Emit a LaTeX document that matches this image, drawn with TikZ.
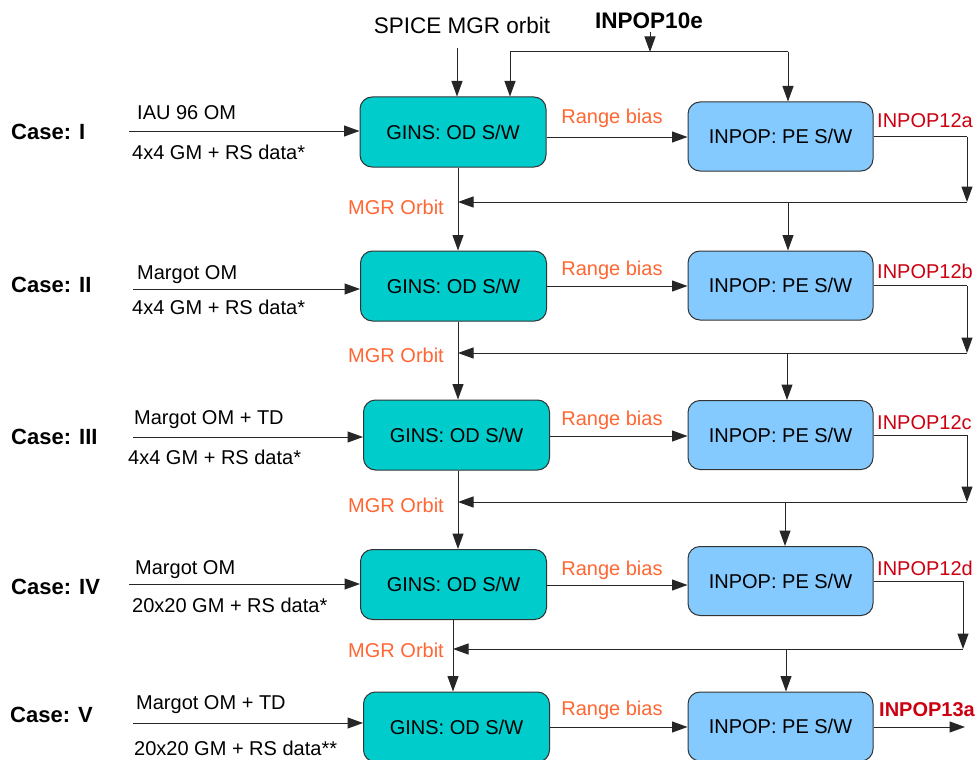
\documentclass[tikz,border=0pt]{standalone}
\usepackage{fontspec}
\setmainfont{Liberation Sans}
\usetikzlibrary{arrows.meta}
\definecolor{ginsfill}{RGB}{0,204,204}
\definecolor{inpopfill}{RGB}{132,202,255}
\definecolor{orng}{RGB}{255,102,51}
\definecolor{redlbl}{RGB}{204,0,17}
\begin{document}
\begin{tikzpicture}[x=1bp,y=-1bp,
  box/.style={draw=black!80, line width=1bp, rounded corners=12bp, minimum width=186bp, minimum height=70bp, inner sep=0pt, text height=14.3bp, text depth=0bp, font=\fontsize{20bp}{24bp}\selectfont},
  ginsbox/.style={box, fill=ginsfill},
  inpopbox/.style={box, fill=inpopfill, minimum width=185bp, minimum height=69bp},
  txt/.style={inner sep=0pt, text height=14.3bp, text depth=0bp, font=\fontsize{20bp}{24bp}\selectfont},
  lefttxt/.style={txt, anchor=west},
  casetxt/.style={inner sep=0pt, anchor=west, text height=15.8bp, text depth=0bp, font=\bfseries\fontsize{22bp}{26bp}\selectfont},
  orangetxt/.style={txt, text=orng},
  redtxt/.style={txt, text=redlbl, anchor=west},
  conn/.style={line width=1bp, draw=black!85},
  arr/.style={conn, -{Triangle[length=15.5bp,width=11bp]}},
]
\useasboundingbox (0,0) rectangle (979,760);

% top inputs
\node[txt, text height=16.1bp, font=\fontsize{22.5bp}{26bp}\selectfont] (spice) at (462,25) {SPICE MGR orbit};
\node[txt, text height=16.1bp, font=\bfseries\fontsize{22.5bp}{26bp}\selectfont] (ie) at (649,20) {INPOP10e};

% case labels
\node[casetxt] (c1) at (11,132) {Case: I};
\node[casetxt] (c2) at (11,285) {Case: II};
\node[casetxt] (c3) at (11,437) {Case: III};
\node[casetxt] (c4) at (11,587) {Case: IV};
\node[casetxt] (c5) at (10,715) {Case: V};

% GINS boxes
\node[ginsbox] (g1) at (453,132) {GINS: OD S/W};
\node[ginsbox] (g2) at (453.5,286) {GINS: OD S/W};
\node[ginsbox] (g3) at (456.5,435) {GINS: OD S/W};
\node[ginsbox] (g4) at (453.5,584.5) {GINS: OD S/W};
\node[ginsbox] (g5) at (456.5,727) {GINS: OD S/W};

% INPOP boxes
\node[inpopbox] (p1) at (780.5,136.5) {INPOP: PE S/W};
\node[inpopbox] (p2) at (780.5,285.5) {INPOP: PE S/W};
\node[inpopbox] (p3) at (780.5,435) {INPOP: PE S/W};
\node[inpopbox] (p4) at (780.5,581) {INPOP: PE S/W};
\node[inpopbox] (p5) at (780.5,726.5) {INPOP: PE S/W};

% input labels
\node[lefttxt] (t1a) at (137,112) {IAU 96 OM};
\node[lefttxt] (t1b) at (132,152) {4x4 GM + RS data*};
\node[lefttxt] (t2a) at (137,272) {Margot OM};
\node[lefttxt] (t2b) at (132,307) {4x4 GM + RS data*};
\node[lefttxt] (t3a) at (134,417) {Margot OM + TD};
\node[lefttxt] (t3b) at (128,457) {4x4 GM + RS data*};
\node[lefttxt] (t4a) at (135,567) {Margot OM};
\node[lefttxt] (t4b) at (132,605) {20x20 GM + RS data*};
\node[lefttxt] (t5a) at (136,702) {Margot OM + TD};
\node[lefttxt] (t5b) at (134,748) {20x20 GM + RS data**};

% input arrows
\coordinate (in1) at (129,131);
\coordinate (in2) at (133,289);
\coordinate (in3) at (133,437);
\coordinate (in4) at (129,584);
\coordinate (in5) at (133,723);
\draw[arr] (in1) -- (in1 -| g1.west);
\draw[arr] (in2) -- (in2 -| g2.west);
\draw[arr] (in3) -- (in3 -| g3.west);
\draw[arr] (in4) -- (in4 -| g4.west);
\draw[arr] (in5) -- (in5 -| g5.west);

% range bias
\node[orangetxt] (rb1) at (612,116) {Range bias};
\node[orangetxt] (rb2) at (612,268) {Range bias};
\node[orangetxt] (rb3) at (612,418) {Range bias};
\node[orangetxt] (rb4) at (612,568) {Range bias};
\node[orangetxt] (rb5) at (612,708) {Range bias};
\coordinate (r1) at (0,137);
\coordinate (r2) at (0,286);
\coordinate (r3) at (0,436);
\coordinate (r4) at (0,585);
\coordinate (r5) at (0,727);
\draw[arr] (g1.east |- r1) -- (p1.west |- r1);
\draw[arr] (g2.east |- r2) -- (p2.west |- r2);
\draw[arr] (g3.east |- r3) -- (p3.west |- r3);
\draw[arr] (g4.east |- r4) -- (p4.west |- r4);
\draw[arr] (g5.east |- r5) -- (p5.west |- r5);

% ephemeris labels
\node[redtxt] (o1) at (877,120) {INPOP12a};
\node[redtxt] (o2) at (877,271) {INPOP12b};
\node[redtxt] (o3) at (877,422) {INPOP12c};
\node[redtxt] (o4) at (877,568) {INPOP12d};
\node[redtxt, font=\bfseries\fontsize{20bp}{24bp}\selectfont] (o5) at (879,709) {INPOP13a};

% feedback loops
\coordinate (f1) at (967,202);
\coordinate (f2) at (967,353);
\coordinate (f3) at (967,502);
\coordinate (f4) at (963,649);
\coordinate (m1) at (458,202);
\coordinate (m2) at (458,353);
\coordinate (m3) at (458,502);
\coordinate (m4) at (453,649);
\coordinate (d1) at (788,202);
\coordinate (d2) at (787,353);
\coordinate (d3) at (785,502);
\coordinate (d4) at (786,649);
\draw[conn] (p1.east) -- (p1.east -| f1);
\draw[conn] (p2.east) -- (p2.east -| f2);
\draw[conn] (p3.east) -- (p3.east -| f3);
\draw[conn] (p4.east) -- (p4.east -| f4);
\draw[arr] (p1.east -| f1) -- (f1);
\draw[arr] (p2.east -| f2) -- (f2);
\draw[arr] (p3.east -| f3) -- (f3);
\draw[arr] (p4.east -| f4) -- (f4);
\draw[arr] (f1) -- (m1);
\draw[arr] (f2) -- (m2);
\draw[arr] (f3) -- (m3);
\draw[arr] (f4) -- (m4);
\draw[arr] (d1) -- (p2.north -| d1);
\draw[arr] (d2) -- (p3.north -| d2);
\draw[arr] (d3) -- (p4.north -| d3);
\draw[arr] (d4) -- (p5.north -| d4);

% MGR orbit links
\draw[arr] (g1.south -| m1) -- (g2.north -| m1);
\draw[arr] (g2.south -| m2) -- (g3.north -| m2);
\draw[arr] (g3.south -| m3) -- (g4.north -| m3);
\draw[arr] (g4.south -| m4) -- (g5.north -| m4);
\node[orangetxt, anchor=east] (mo1) at (444,207) {MGR Orbit};
\node[orangetxt, anchor=east] (mo2) at (444,355) {MGR Orbit};
\node[orangetxt, anchor=east] (mo3) at (444,505) {MGR Orbit};
\node[orangetxt, anchor=east] (mo4) at (444,650) {MGR Orbit};

% top connectors
\coordinate (sp) at (457,48);
\draw[arr] (sp) -- (g1.north -| sp);
\coordinate (iet) at (650,32);
\coordinate (ieb) at (650,52);
\draw[arr] (iet) -- (ieb);
\coordinate (tl) at (510,52);
\coordinate (tr) at (788,52);
\draw[conn] (tl) -- (tr);
\draw[arr] (tl) -- (g1.north -| tl);
\draw[arr] (tr) -- (p1.north -| tr);

% output
\coordinate (out) at (965,727);
\draw[arr] (p5.east |- out) -- (out);
\end{tikzpicture}
\end{document}
